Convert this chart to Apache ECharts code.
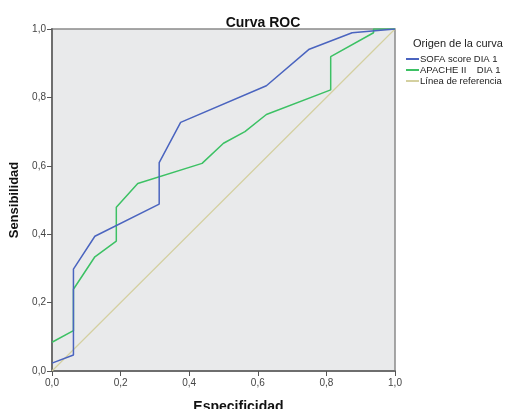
<!DOCTYPE html>
<html><head><meta charset="utf-8">
<script src="https://cdn.jsdelivr.net/npm/echarts@6/dist/echarts.min.js"></script>
<style>html,body{margin:0;padding:0;background:#fff}#c{width:511px;height:409px}</style>
</head><body><div id="c"></div>
<script>
const sofaX = [0, 0.0625, 0.0625, 0.125, 0.3125, 0.3125, 0.375, 0.625, 0.75, 0.875, 1];
const sofaY = [0.023, 0.047, 0.298, 0.394, 0.488, 0.609, 0.727, 0.834, 0.941, 0.989, 1];
const apacheX = [0, 0.0625, 0.0625, 0.125, 0.1875, 0.1875, 0.25, 0.4375, 0.5, 0.5625, 0.625, 0.8125, 0.8125, 0.9375, 0.9375, 1];
const apacheY = [0.084, 0.118, 0.239, 0.334, 0.380, 0.479, 0.548, 0.607, 0.666, 0.700, 0.750, 0.822, 0.919, 0.989, 1, 1];
const refX = [0, 1];
const refY = [0, 1];
const ticks = [0, 0.2, 0.4, 0.6, 0.8, 1.0];
const names = ['SOFA score DIA 1', 'APACHE II    DIA 1', 'Línea de referencia'];

const pair = (xs, ys) => xs.map((x, i) => [x, ys[i]]);
const fmt = v => ticks.includes(Math.round(v * 10) / 10) ? v.toFixed(1).replace('.', ',') : '';
const font = 'Arial, "Liberation Sans", sans-serif';

const chart = echarts.init(document.getElementById('c'), null, {renderer: 'canvas'});
const axisCommon = {
  type: 'value', min: 0, max: 1, interval: 0.2,
  axisLine: {show: true, lineStyle: {color: '#6e6e6e', width: 2}},
  axisTick: {show: true, length: 5, lineStyle: {color: '#555', width: 1}},
  splitLine: {show: false},
  axisLabel: {color: '#444', fontSize: 10, fontFamily: font, formatter: fmt},
  nameLocation: 'middle'
};
const nameStyle = {color: '#111', fontSize: 14, fontWeight: 'bold', fontFamily: font};
chart.setOption({
  animation: false,
  title: {text: 'Curva ROC', left: 258, top: 11, textAlign: 'center',
    textStyle: {fontSize: 14, fontWeight: 'bold', color: '#111', fontFamily: font}},
  grid: {left: 52, right: 116, top: 29, bottom: 38, show: true, containLabel: false,
    outerBoundsMode: 'none',
    backgroundColor: '#e9eaeb', borderColor: '#8a8a8a', borderWidth: 1.5},
  xAxis: Object.assign({}, axisCommon, {name: 'Especificidad', nameGap: 29,
    nameTextStyle: Object.assign({}, nameStyle, {padding: [0, 0, 0, 30]}),
    axisLabel: Object.assign({}, axisCommon.axisLabel, {margin: 7})}),
  yAxis: Object.assign({}, axisCommon, {name: 'Sensibilidad', nameGap: 28, nameRotate: 90,
    nameTextStyle: Object.assign({}, nameStyle, {fontSize: 13}),
    axisLabel: Object.assign({}, axisCommon.axisLabel, {margin: 6})}),
  legend: {orient: 'vertical', left: 406, top: 54, padding: 0, itemGap: 1, itemWidth: 13, itemHeight: 2,
    icon: 'rect', textStyle: {fontSize: 9.5, color: '#222', fontFamily: font, padding: [0, 0, 0, -4]},
    data: names},
  graphic: [{type: 'text', left: 413, top: 38,
    style: {text: 'Origen de la curva', fontSize: 11, fill: '#222', fontFamily: font}}],
  series: [
    {name: names[0], type: 'line', data: pair(sofaX, sofaY), showSymbol: false,
      lineStyle: {color: '#4a64bf', width: 1.5}, itemStyle: {color: '#4a64bf'}, z: 3},
    {name: names[1], type: 'line', data: pair(apacheX, apacheY), showSymbol: false,
      lineStyle: {color: '#3cc164', width: 1.5}, itemStyle: {color: '#3cc164'}, z: 2},
    {name: names[2], type: 'line', data: pair(refX, refY), showSymbol: false,
      lineStyle: {color: '#d4d0a0', width: 1.2}, itemStyle: {color: '#d4d0a0'}, z: 1}
  ]
});
</script></body></html>
